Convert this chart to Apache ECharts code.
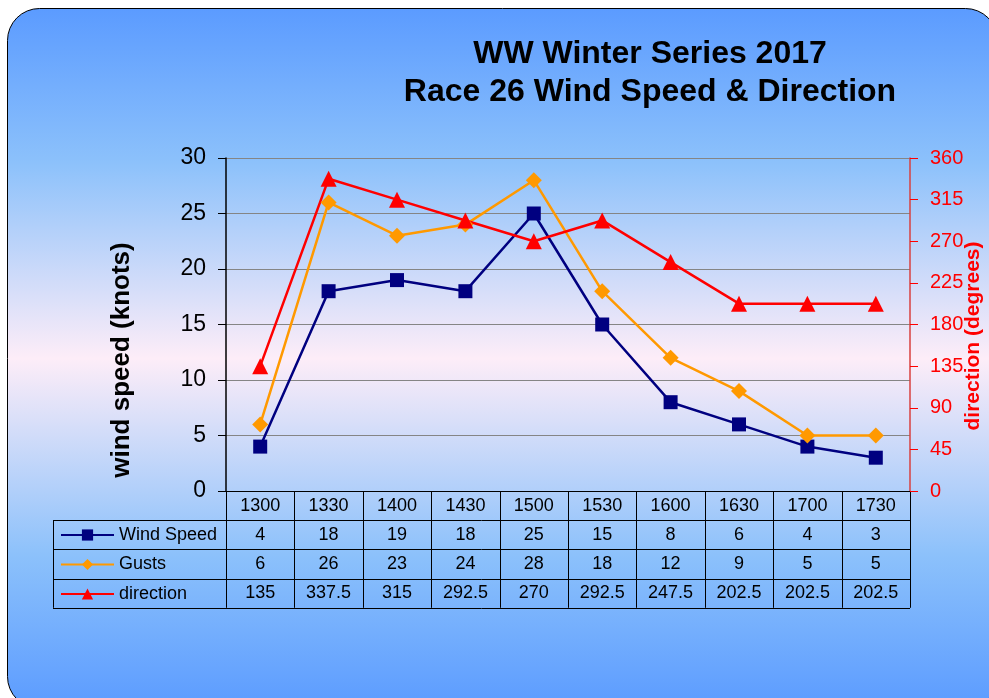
<!DOCTYPE html>
<html>
<head>
<meta charset="utf-8">
<script src="https://cdn.jsdelivr.net/npm/echarts@6/dist/echarts.min.js"></script>
<style>
  html, body { margin: 0; padding: 0; background: #fff; }
  #main { width: 989px; height: 698px; }
</style>
</head>
<body>
<div id="main"></div>
<script>
// data
var times = ['1300', '1330', '1400', '1430', '1500', '1530', '1600', '1630', '1700', '1730'];
var windSpeed = [4, 18, 19, 18, 25, 15, 8, 6, 4, 3];
var gusts = [6, 26, 23, 24, 28, 18, 12, 9, 5, 5];
var direction = [135, 337.5, 315, 292.5, 270, 292.5, 247.5, 202.5, 202.5, 202.5];
var seriesNames = ['Wind Speed', 'Gusts', 'direction'];

var FONT = '"Liberation Sans", Arial, sans-serif';

// plot box (pixels)
var plotL = 226, plotR = 910, plotT = 158, plotB = 491;
var rowH = 29.2;
var tableL = 53;
var cw = (plotR - plotL) / times.length;

var chart = echarts.init(document.getElementById('main'));

function buildTable() {
  var els = [];
  var rows = [times, windSpeed, gusts, direction];
  var bottom = plotB + rowH * rows.length;
  // horizontal lines
  for (var r = 1; r <= rows.length; r++) {
    var y = Math.round(plotB + rowH * r) + 0.5;
    els.push({ type: 'line', shape: { x1: tableL, y1: y, x2: plotR, y2: y }, style: { stroke: '#000', lineWidth: 1 } });
  }
  // vertical lines
  for (var i = 0; i <= times.length; i++) {
    var x = Math.round(plotL + cw * i) + 0.5;
    els.push({ type: 'line', shape: { x1: x, y1: plotB, x2: x, y2: bottom }, style: { stroke: '#000', lineWidth: 1 } });
  }
  els.push({ type: 'line', shape: { x1: tableL + 0.5, y1: plotB + rowH, x2: tableL + 0.5, y2: bottom }, style: { stroke: '#000', lineWidth: 1 } });
  // cell texts
  rows.forEach(function (row, r) {
    row.forEach(function (v, i) {
      els.push({
        type: 'text',
        x: plotL + cw * (i + 0.5),
        y: plotB + rowH * (r + 0.5),
        style: { text: String(v), font: '18px ' + FONT, fill: '#000', align: 'center', verticalAlign: 'middle' }
      });
    });
  });
  return els;
}

var graphics = [
  {
    type: 'rect', z: -100, silent: true,
    shape: { x: 7.5, y: 8.5, width: 990, height: 700, r: 32 },
    style: {
      stroke: '#000', lineWidth: 1,
      fill: new echarts.graphic.LinearGradient(0, 0, 0, 1, [
        { offset: 0, color: '#5b9bff' },
        { offset: 0.22, color: '#8cc1fb' },
        { offset: 0.5, color: '#fdedf8' },
        { offset: 0.78, color: '#8cc1fb' },
        { offset: 1, color: '#5b9bff' }
      ])
    }
  },
  {
    type: 'text', x: 122, y: 360, rotation: Math.PI / 2,
    style: { text: 'wind speed (knots)', font: 'bold 26px ' + FONT, fill: '#000', align: 'center', verticalAlign: 'middle' }
  },
  {
    type: 'text', x: 973, y: 336, rotation: Math.PI / 2,
    style: { text: 'direction (degrees)', font: 'bold 21px ' + FONT, fill: '#ff0000', align: 'center', verticalAlign: 'middle' }
  }
].concat(buildTable());

chart.setOption({
  animation: false,
  title: {
    text: 'WW Winter Series 2017\nRace 26 Wind Speed & Direction',
    left: 645, top: 30, textAlign: 'center',
    textStyle: { fontFamily: FONT, fontWeight: 'bold', fontSize: 32, lineHeight: 38, color: '#000' }
  },
  legend: {
    orient: 'vertical', left: 60, top: 526, padding: 0,
    itemWidth: 53, itemHeight: 14, itemGap: 11.5, itemStyle: { borderWidth: 0 },
    data: seriesNames,
    textStyle: { fontFamily: FONT, fontSize: 18, color: '#000' }
  },
  grid: { left: plotL, right: 989 - plotR, top: plotT, bottom: 698 - plotB, containLabel: false },
  xAxis: {
    type: 'category', data: times, boundaryGap: true,
    axisLine: { lineStyle: { color: '#000', width: 1 } },
    axisTick: { show: false },
    axisLabel: { show: false }
  },
  yAxis: [
    {
      type: 'value', min: 0, max: 30, interval: 5,
      axisLine: { show: true, lineStyle: { color: '#000', width: 1.5 } },
      axisTick: { show: true, length: 8, lineStyle: { color: '#000' } },
      axisLabel: { margin: 20, fontFamily: FONT, fontSize: 23, color: '#000' },
      splitLine: { show: true, lineStyle: { color: '#858585', width: 1 } }
    },
    {
      type: 'value', min: 0, max: 360, interval: 45, position: 'right',
      axisLine: { show: true, lineStyle: { color: '#d9413f', width: 1.5 } },
      axisTick: { show: true, length: 8, lineStyle: { color: '#ff0000' } },
      axisLabel: { margin: 20, fontFamily: FONT, fontSize: 20, color: '#ff0000' },
      splitLine: { show: false }
    }
  ],
  series: [
    {
      name: seriesNames[0], type: 'line', yAxisIndex: 0, data: windSpeed,
      symbol: 'rect', symbolSize: 14,
      lineStyle: { color: '#000080', width: 2.5 },
      itemStyle: { color: '#000080' }
    },
    {
      name: seriesNames[1], type: 'line', yAxisIndex: 0, data: gusts,
      symbol: 'diamond', symbolSize: 16,
      lineStyle: { color: '#ff9900', width: 2.5 },
      itemStyle: { color: '#ff9900' }
    },
    {
      name: seriesNames[2], type: 'line', yAxisIndex: 1, data: direction,
      symbol: 'triangle', symbolSize: 16,
      lineStyle: { color: '#ff0000', width: 2.5 },
      itemStyle: { color: '#ff0000' }
    }
  ],
  graphic: graphics
});
</script>
</body>
</html>
